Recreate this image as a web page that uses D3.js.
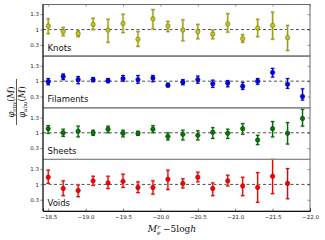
<!DOCTYPE html>
<html>
<head>
<meta charset="utf-8">
<script src="https://cdn.jsdelivr.net/npm/d3@7"></script>
<style>
  body { margin: 0; background: #fff; }
  svg { display: block; }
</style>
</head>
<body>
<div id="chart"></div>
<script>
// ratio of env / abundance matched luminosity function, four environments

var width = 325,
    height = 240;

var panelNames = ["Knots", "Filaments", "Sheets", "Voids"];

// bin centres (magnitudes)
var magBins = [-18.5, -18.7, -18.9, -19.1, -19.3, -19.5, -19.7, -19.9, -20.1,
               -20.3, -20.5, -20.7, -20.9, -21.1, -21.3, -21.5, -21.7, -21.9];

var xTicks = [-18.5, -19.0, -19.5, -20.0, -20.5, -21.0, -21.5, -22.0];
var yTickValues = [0.7, 1, 1.3];
var yTickLabels = ["0.3", "1", "1.3"];

// ratio values and error bar ends
var knotsVal = [1.07,0.96,0.92,1.10,0.99,1.12,0.81,1.21,1.07,0.99,0.96,0.91,1.11,0.82,1.03,1.08,0.84];
var knotsLo  = [0.92,0.88,0.86,1.00,0.75,0.94,0.67,1.01,0.96,0.78,0.82,0.82,0.95,0.75,0.86,0.81,0.59];
var knotsHi  = [1.21,1.04,0.98,1.22,1.20,1.30,0.96,1.39,1.16,1.19,1.10,0.99,1.31,0.90,1.20,1.34,1.08];

var filVal = [0.99,1.09,1.03,1.03,1.01,1.05,1.03,1.06,0.92,0.98,1.03,0.95,0.96,0.90,1.00,1.17,0.94,0.70];
var filLo  = [0.93,1.03,0.95,0.99,0.97,1.00,0.96,0.99,0.89,0.93,0.96,0.88,0.89,0.84,0.94,1.08,0.86,0.63];
var filHi  = [1.05,1.14,1.09,1.07,1.05,1.11,1.11,1.11,0.96,1.03,1.10,1.02,1.01,0.98,1.05,1.25,1.05,0.85];

var sheetVal = [1.08,1.00,1.03,1.00,1.07,0.99,0.99,1.07,0.93,0.97,0.95,1.01,0.99,1.08,0.86,1.08,0.99,1.28];
var sheetLo  = [0.99,0.93,0.92,0.95,1.00,0.92,0.95,1.00,0.86,0.86,0.86,0.89,0.89,0.97,0.77,0.92,0.78,1.13];
var sheetHi  = [1.14,1.07,1.13,1.05,1.13,1.05,1.03,1.14,1.00,1.05,1.04,1.10,1.07,1.18,0.95,1.22,1.20,1.46];

var voidVal = [1.14,0.92,0.88,1.07,1.03,1.06,0.94,0.94,1.10,1.02,1.14,0.92,1.07,0.97,0.94,1.16,1.02];
var voidLo  = [1.02,0.78,0.76,0.98,0.92,0.94,0.84,0.81,0.90,0.93,1.05,0.78,0.97,0.78,0.65,0.82,0.72];
var voidHi  = [1.28,1.07,0.99,1.16,1.16,1.20,1.05,1.07,1.28,1.11,1.24,1.03,1.18,1.14,1.23,1.50,1.31];

var series = [
  {name: panelNames[0], val: knotsVal, lo: knotsLo, hi: knotsHi, line: "#a0a000", fill: "#c4c41a", edge: "#707000"},
  {name: panelNames[1], val: filVal,   lo: filLo,   hi: filHi,   line: "#0000dd", fill: "#0000ee", edge: "#00008a"},
  {name: panelNames[2], val: sheetVal, lo: sheetLo, hi: sheetHi, line: "#006a00", fill: "#007a00", edge: "#004000"},
  {name: panelNames[3], val: voidVal,  lo: voidLo,  hi: voidHi,  line: "#ee0000", fill: "#ff0000", edge: "#a00000"}
];

var mLeft = 43, mRight = 310, mTop = 4.5, mBottom = 211;
var panelH = (mBottom - mTop) / 4;

var x = d3.scaleLinear().domain([-18.43, -22.0]).range([mLeft, mRight]);

var svg = d3.select("#chart").append("svg")
    .attr("width", width)
    .attr("height", height);

series.forEach(function(s, p) {
  var y0 = mTop + p * panelH;
  var y = d3.scaleLinear().domain([0.48, 1.49]).range([y0 + panelH, y0]);

  var g = svg.append("g").attr("class", "panel");

  // dashed reference line at 1
  g.append("line")
    .attr("x1", mLeft).attr("x2", mRight)
    .attr("y1", y(1)).attr("y2", y(1))
    .attr("stroke", "#222")
    .attr("stroke-width", 0.8)
    .attr("stroke-dasharray", "3,2.5");

  // left axis, ticks outward
  var ax = g.append("g")
    .attr("transform", "translate(" + mLeft + ",0)")
    .call(d3.axisLeft(y).tickValues(yTickValues).tickSize(2.5).tickPadding(1.5)
      .tickFormat(function(d, i) { return yTickLabels[i]; }));
  ax.select(".domain").remove();
  ax.selectAll("text").attr("font-family", "DejaVu Sans").attr("font-size", 5.5).attr("fill", "#222");
  ax.selectAll("line").attr("stroke", "#333").attr("stroke-width", 0.6);

  // right side inward ticks
  var ar = g.append("g")
    .attr("transform", "translate(" + mRight + ",0)")
    .call(d3.axisLeft(y).tickValues(yTickValues).tickSize(2.5).tickFormat(""));
  ar.select(".domain").remove();
  ar.selectAll("line").attr("stroke", "#555").attr("stroke-width", 0.6);

  // x ticks inward at the top of the figure
  if (p == 0) {
    var at = g.append("g")
      .attr("transform", "translate(0," + y0 + ")")
      .call(d3.axisBottom(x).tickValues(xTicks).tickSize(2.5).tickFormat(""));
    at.select(".domain").remove();
    at.selectAll("line").attr("stroke", "#777").attr("stroke-width", 0.6);
  }

  // error bars with a pale halo
  var pts = s.val.map(function(v, i) {
    return {x: magBins[i], v: v, lo: s.lo[i], hi: s.hi[i]};
  });

  var eb = g.selectAll(".eb").data(pts).enter().append("g").attr("class", "eb");
  [["#cfcfcf", 2.6, 0.7], [s.line, 1.2, 1]].forEach(function(st) {
    eb.append("line")
      .attr("x1", function(d) { return x(d.x); })
      .attr("x2", function(d) { return x(d.x); })
      .attr("y1", function(d) { return y(Math.min(d.hi, 1.49)); })
      .attr("y2", function(d) { return y(d.lo); })
      .attr("stroke", st[0]).attr("stroke-width", st[1]).attr("opacity", st[2]);
    ["hi", "lo"].forEach(function(k) {
      eb.append("line")
        .attr("x1", function(d) { return x(d.x) - 1.8; })
        .attr("x2", function(d) { return x(d.x) + 1.8; })
        .attr("y1", function(d) { return y(Math.min(d[k], 1.49)); })
        .attr("y2", function(d) { return y(Math.min(d[k], 1.49)); })
        .attr("stroke", st[0]).attr("stroke-width", st[1]).attr("opacity", st[2]);
    });
  });

  g.selectAll(".pt").data(pts).enter().append("circle")
    .attr("class", "pt")
    .attr("cx", function(d) { return x(d.x); })
    .attr("cy", function(d) { return y(d.v); })
    .attr("r", 2.2)
    .attr("fill", s.fill)
    .attr("stroke", s.edge)
    .attr("stroke-width", 0.6);

  g.append("text")
    .attr("x", mLeft + 4.5)
    .attr("y", y0 + panelH - 5.5)
    .attr("font-family", "DejaVu Sans")
    .attr("font-size", 8.5)
    .attr("fill", "#111")
    .text(s.name);

  // frame
  g.append("rect")
    .attr("x", mLeft).attr("y", y0)
    .attr("width", mRight - mLeft).attr("height", panelH)
    .attr("fill", "none")
    .attr("stroke", "#444")
    .attr("stroke-width", 0.8);
});

// grey separators between panels
svg.selectAll(".sep").data([1, 2, 3]).enter().append("line")
  .attr("class", "sep")
  .attr("x1", mLeft).attr("x2", mRight)
  .attr("y1", function(d) { return mTop + d * panelH; })
  .attr("y2", function(d) { return mTop + d * panelH; })
  .attr("stroke", "#8a8a8a")
  .attr("stroke-width", 1.4);

// left and bottom spine
svg.append("line").attr("x1", mLeft).attr("x2", mLeft).attr("y1", mTop).attr("y2", mBottom)
  .attr("stroke", "#111").attr("stroke-width", 1);

var axb = svg.append("g")
  .attr("transform", "translate(0," + mBottom + ")")
  .call(d3.axisTop(x).tickValues(xTicks).tickSize(2.5).tickFormat(""));
axb.select(".domain").attr("stroke", "#111").attr("stroke-width", 1);
axb.selectAll("line").attr("stroke", "#333").attr("stroke-width", 0.6);

var axl = svg.append("g")
  .attr("transform", "translate(0," + mBottom + ")")
  .call(d3.axisBottom(x).tickValues(xTicks).tickSize(0).tickPadding(4)
    .tickFormat(function(d) { return d3.format(".1f")(d).replace("-", "\u2212"); }));
axl.select(".domain").remove();
axl.selectAll("text").attr("font-family", "DejaVu Sans").attr("font-size", 5.5).attr("fill", "#222");

// x label: M_e^r -5logh
var xl = svg.append("text")
  .attr("x", 172).attr("y", 232)
  .attr("text-anchor", "middle")
  .attr("font-family", "DejaVu Serif")
  .attr("font-size", 9)
  .attr("fill", "#111");
xl.append("tspan").attr("font-style", "italic").text("M");
xl.append("tspan").attr("font-size", 6).attr("dy", 2.5).attr("font-style", "italic").text("e");
xl.append("tspan").attr("font-size", 6).attr("dx", -3.3).attr("dy", -6).attr("font-style", "italic").text("r");
xl.append("tspan").attr("dy", 3.5).text(" \u22125log");
xl.append("tspan").attr("font-style", "italic").text("h");

// y label as a fraction
var yl = svg.append("g").attr("transform", "translate(16.5,102) rotate(-90)");
yl.append("line").attr("x1", -23).attr("x2", 23).attr("y1", 0).attr("y2", 0)
  .attr("stroke", "#111").attr("stroke-width", 0.7);

function phiLabel(sub, yy) {
  var t = yl.append("text")
    .attr("x", 0).attr("y", yy)
    .attr("text-anchor", "middle")
    .attr("font-family", "DejaVu Serif")
    .attr("font-size", 8.5)
    .attr("fill", "#111");
  t.append("tspan").attr("font-style", "italic").text("\u03c6");
  t.append("tspan").attr("font-size", 5.5).attr("dy", 2).text(sub);
  t.append("tspan").attr("dy", -2).text("(");
  t.append("tspan").attr("font-style", "italic").text("M");
  t.append("tspan").text(")");
}
phiLabel("env", -2.8);
phiLabel("abu", 8.2);
</script>
</body>
</html>
